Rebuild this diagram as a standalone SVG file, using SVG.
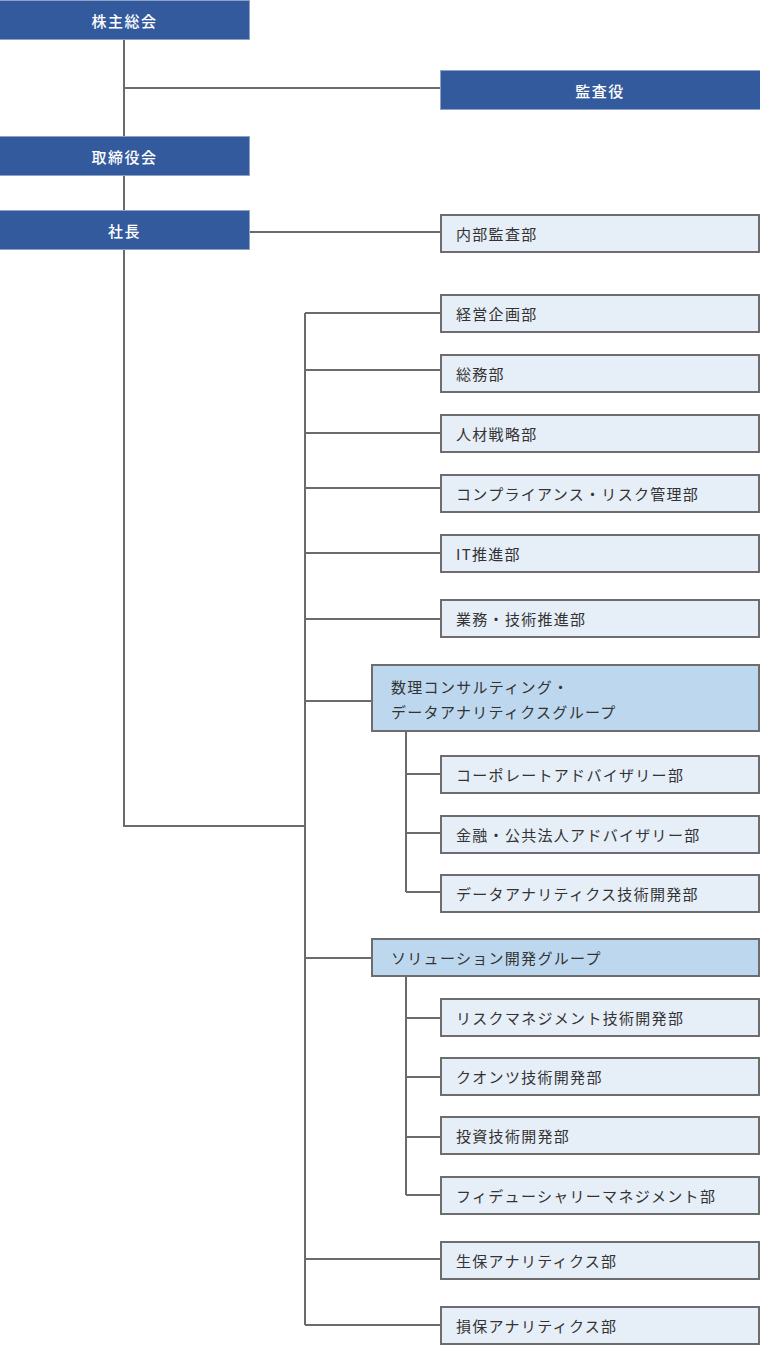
<svg xmlns="http://www.w3.org/2000/svg" width="760" height="1345" viewBox="0 0 760 1345">
<style>
text{font-family:"Noto Sans CJK JP","Noto Sans",sans-serif;font-size:15px;dominant-baseline:central}
.top rect{fill:#345a9e;stroke:#8fa3c8;stroke-width:1}
.top text{fill:#fff;text-anchor:middle;letter-spacing:1.5px;font-weight:500}
.dept rect{fill:#e6eef8;stroke:#6d6d6d;stroke-width:2}
.dept text{fill:#333;letter-spacing:1.3px}
.grp rect{fill:#bdd8ee;stroke:#6d6d6d;stroke-width:2}
.grp text{fill:#333;letter-spacing:1.3px}
#connectors path{fill:none;stroke:#6b6b6b;stroke-width:2}
</style>
<g id="connectors">
<path d="M124 40V136M124 176V210M124 250V826H305M124 88H440M250 232H441"/>
<path d="M305 313V1325M305 313H441M305 370H441M305 433H441M305 488H441M305 553H441M305 619H441M305 701H371M305 958H371M305 1259H441M305 1325H441"/>
<path d="M406 732V892M406 774H441M406 833H441M406 892H441"/>
<path d="M406 977V1195M406 1018H441M406 1077H441M406 1137H441M406 1195H441"/>
</g>
<g id="n-kabunushi" class="top"><rect x="-0.5" y="0.5" width="250" height="39"/><text x="124.5" y="20">株主総会</text></g>
<g id="n-kansayaku" class="top"><rect x="440.5" y="70.5" width="320" height="39"/><text x="600" y="90">監査役</text></g>
<g id="n-torishimariyaku" class="top"><rect x="-0.5" y="136.5" width="250" height="39"/><text x="124.5" y="156">取締役会</text></g>
<g id="n-shacho" class="top"><rect x="-0.5" y="210.5" width="250" height="39"/><text x="124.5" y="230">社長</text></g>
<g id="n-naibu" class="dept"><rect x="441" y="215" width="318" height="37"/><text x="456" y="233.5">内部監査部</text></g>
<g id="n-keiei" class="dept"><rect x="441" y="295" width="318" height="37"/><text x="456" y="313.5">経営企画部</text></g>
<g id="n-somu" class="dept"><rect x="441" y="355" width="318" height="37"/><text x="456" y="373.5">総務部</text></g>
<g id="n-jinzai" class="dept"><rect x="441" y="415" width="318" height="37"/><text x="456" y="433.5">人材戦略部</text></g>
<g id="n-compliance" class="dept"><rect x="441" y="475" width="318" height="37"/><text x="456" y="493.5">コンプライアンス・リスク管理部</text></g>
<g id="n-it" class="dept"><rect x="441" y="535" width="318" height="37"/><text x="456" y="553.5">IT推進部</text></g>
<g id="n-gyomu" class="dept"><rect x="441" y="600" width="318" height="37"/><text x="456" y="618.5">業務・技術推進部</text></g>
<g id="n-suri" class="grp"><rect x="372" y="665" width="387" height="66"/><text x="391" y="686">数理コンサルティング・</text><text x="391" y="711.5">データアナリティクスグループ</text></g>
<g id="n-corporate" class="dept"><rect x="441" y="756" width="318" height="37"/><text x="456" y="774.5">コーポレートアドバイザリー部</text></g>
<g id="n-kinyu" class="dept"><rect x="441" y="816" width="318" height="37"/><text x="456" y="834.5">金融・公共法人アドバイザリー部</text></g>
<g id="n-data" class="dept"><rect x="441" y="875" width="318" height="37"/><text x="456" y="893.5">データアナリティクス技術開発部</text></g>
<g id="n-solution" class="grp"><rect x="372" y="939" width="387" height="37"/><text x="391" y="957.5">ソリューション開発グループ</text></g>
<g id="n-risk" class="dept"><rect x="441" y="999" width="318" height="37"/><text x="456" y="1017.5">リスクマネジメント技術開発部</text></g>
<g id="n-quants" class="dept"><rect x="441" y="1058" width="318" height="37"/><text x="456" y="1076.5">クオンツ技術開発部</text></g>
<g id="n-toshi" class="dept"><rect x="441" y="1117" width="318" height="37"/><text x="456" y="1135.5">投資技術開発部</text></g>
<g id="n-fiduciary" class="dept"><rect x="441" y="1177" width="318" height="37"/><text x="456" y="1195.5">フィデューシャリーマネジメント部</text></g>
<g id="n-seiho" class="dept"><rect x="441" y="1242" width="318" height="37"/><text x="456" y="1260.5">生保アナリティクス部</text></g>
<g id="n-sonpo" class="dept"><rect x="441" y="1307" width="318" height="37"/><text x="456" y="1325.5">損保アナリティクス部</text></g>
</svg>
